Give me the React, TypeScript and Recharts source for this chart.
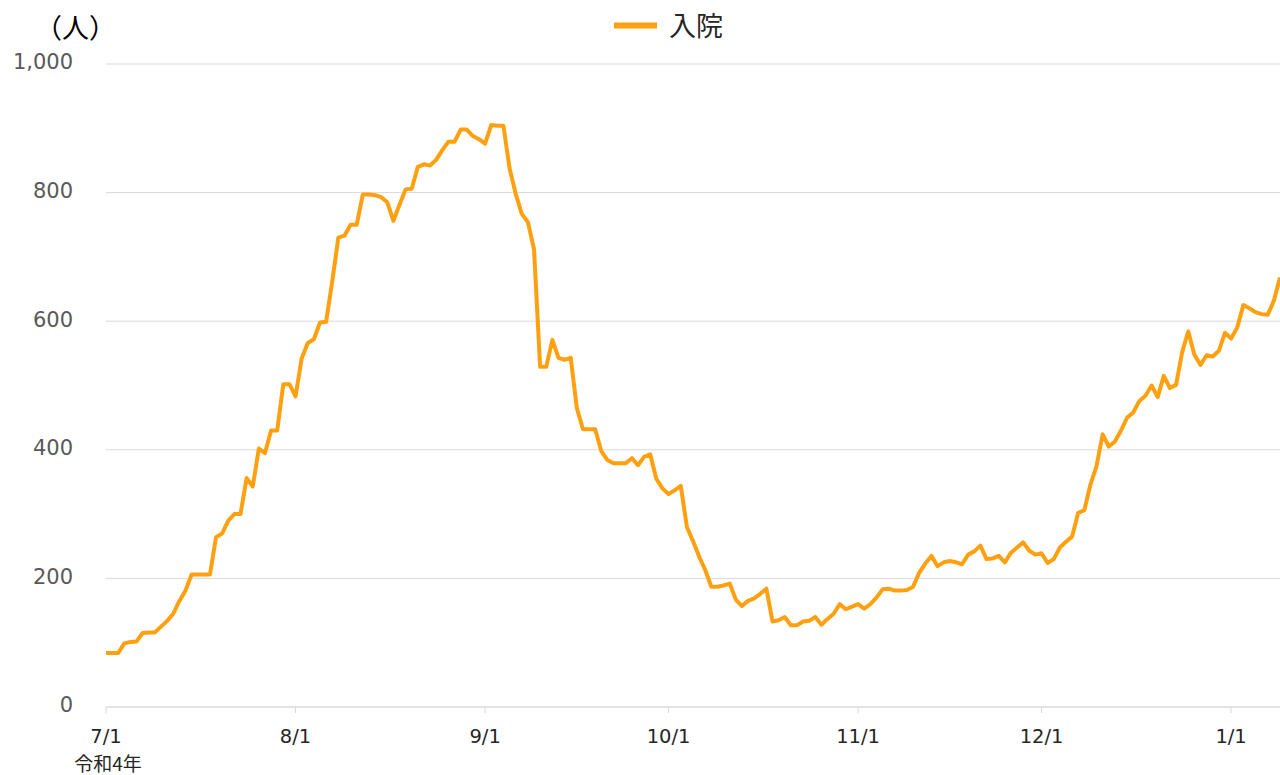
import { LineChart, Line, XAxis, YAxis, CartesianGrid } from "recharts"

// 入院者数 (令和4年7/1 〜 令和5年1/9)
const julValues = [84, 84, 84, 99, 101, 102, 115, 116, 116, 125, 134, 145, 165, 181, 206, 206, 206, 206, 264, 270, 290, 300, 300, 356, 343, 402, 395, 430, 430, 502, 502]
const augValues = [483, 542, 566, 572, 598, 599, 662, 730, 733, 750, 750, 797, 797, 796, 793, 785, 756, 781, 805, 806, 840, 844, 842, 851, 866, 879, 879, 898, 898, 888, 883]
const sepValues = [876, 905, 904, 904, 838, 798, 767, 754, 712, 529, 529, 571, 543, 540, 543, 465, 432, 432, 432, 398, 384, 379, 379, 379, 387, 376, 389, 393, 355, 340]
const octValues = [331, 337, 344, 280, 258, 234, 213, 187, 187, 189, 192, 167, 157, 165, 169, 176, 184, 133, 135, 140, 127, 127, 133, 134, 140, 128, 137, 145, 160, 152, 156]
const novValues = [160, 153, 160, 170, 183, 184, 181, 181, 182, 187, 209, 223, 235, 219, 225, 227, 225, 222, 237, 242, 251, 230, 231, 235, 225, 240, 248, 256, 243, 237]
const decValues = [239, 224, 230, 248, 257, 265, 302, 306, 346, 375, 424, 405, 413, 430, 450, 458, 476, 484, 500, 482, 515, 496, 501, 552, 584, 548, 532, 547, 545, 554, 582]
const janValues = [573, 590, 625, 620, 614, 611, 610, 632, 668]

const months = [7, 8, 9, 10, 11, 12, 1]
const monthValues = [julValues, augValues, sepValues, octValues, novValues, decValues, janValues]
const tickLabels = ["7/1", "8/1", "9/1", "10/1", "11/1", "12/1", "1/1"]
const yTicks = [0, 200, 400, 600, 800, 1000]

const FONT = "'DejaVu Sans', 'Noto Sans CJK JP', sans-serif"
const CJK = "'Noto Sans CJK JP', sans-serif"
const ORANGE = "#ffa010"

const data: { i: number; date: string; v: number }[] = []
const monthStarts: number[] = []
monthValues.forEach((vals, m) => {
  monthStarts.push(data.length)
  vals.forEach((v, d) => {
    data.push({ i: data.length, date: `${months[m]}/${d + 1}`, v })
  })
})

function XTick(props: any) {
  const { x, y, payload } = props
  const idx = monthStarts.indexOf(payload.value)
  return (
    <g>
      <text x={x} y={y + 28} textAnchor="middle" fill="#262626" fontSize={19.5} fontFamily={FONT}>
        {tickLabels[idx]}
      </text>
      {idx === 0 && (
        <text x={x + 2} y={y + 56} textAnchor="middle" fill="#262626" fontSize={19} fontFamily={CJK}>
          令和4年
        </text>
      )}
    </g>
  )
}

export default function App() {
  return (
    <div style={{ position: "absolute", left: 0, top: 0, width: 1280, height: 775, background: "#fff" }}>
      <LineChart width={1280} height={775} data={data} margin={{ top: 64, right: 0, bottom: 0, left: 0 }}>
        <CartesianGrid vertical={false} stroke="#d9d9d9" />
        <XAxis
          dataKey="i"
          type="number"
          domain={[0, data.length - 1]}
          ticks={monthStarts}
          height={68}
          stroke="#d9d9d9"
          tickSize={6}
          tick={<XTick />}
          interval={0}
        />
        <YAxis
          domain={[0, 1000]}
          ticks={yTicks}
          width={106}
          axisLine={false}
          tickLine={false}
          tickMargin={27}
          tick={{ fontSize: 21, fill: "#595959", fontFamily: FONT, dy: -2 }}
          tickFormatter={(v) => v.toLocaleString("en-US")}
        />
        <Line
          type="linear"
          dataKey="v"
          stroke={ORANGE}
          strokeWidth={4}
          strokeLinejoin="round"
          dot={false}
          isAnimationActive={false}
        />
      </LineChart>
      <svg width={1280} height={60} style={{ position: "absolute", left: 0, top: 0, pointerEvents: "none" }}>
        <text x={35} y={38} fontSize={27} fill="#000" fontFamily={CJK}>（人）</text>
        <line x1={614} x2={657} y1={25.5} y2={25.5} stroke={ORANGE} strokeWidth={6} />
        <text x={669} y={36} fontSize={27} fill="#262626" fontFamily={CJK}>入院</text>
      </svg>
    </div>
  )
}
